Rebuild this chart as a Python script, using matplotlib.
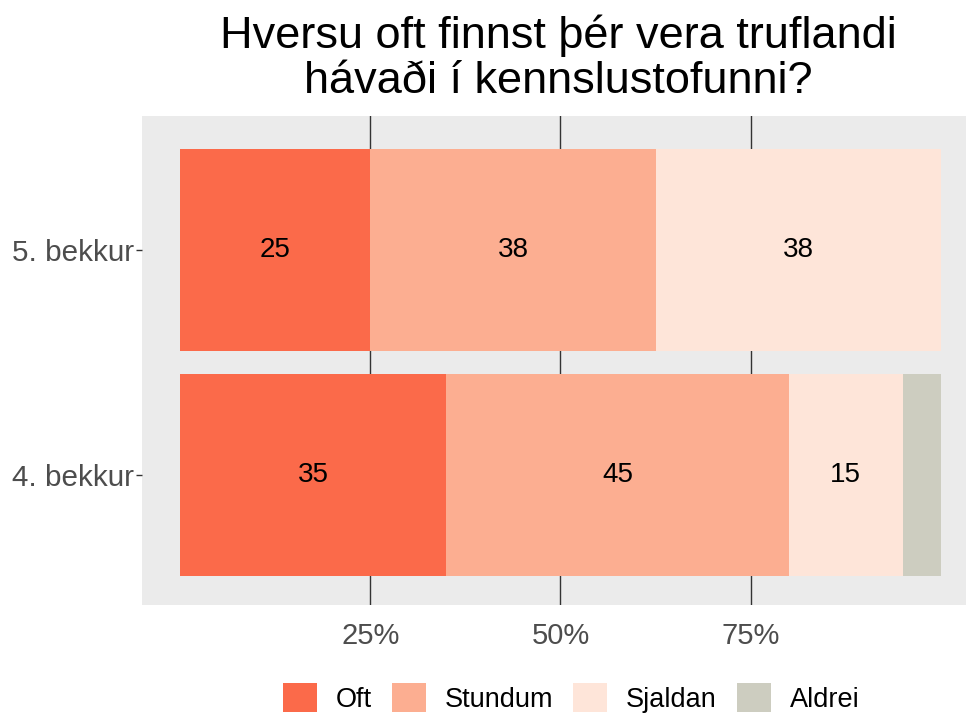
import numpy as np
import matplotlib
matplotlib.use('Agg')
import matplotlib.pyplot as plt
from matplotlib.patches import Patch

plt.rcParams['font.family'] = ['Liberation Sans', 'DejaVu Sans']

# gogn
bekkir = ['4. bekkur', '5. bekkur']
svor = ['Oft', 'Stundum', 'Sjaldan', 'Aldrei']
oft = [35, 25]
stundum = [45, 37.5]
sjaldan = [15, 37.5]
aldrei = [5, 0]
litir = ['#FB6A4A', '#FCAE91', '#FEE5D9', '#CDCDC0']

fig = plt.figure(figsize=(9.66, 7.13), dpi=100)
ax = fig.add_axes([142/966, (713-605)/713, 1 - 142/966, (605-116)/713])
ax.set_facecolor('#EBEBEB')
for s in ax.spines.values():
    s.set_visible(False)

for g in [25, 50, 75]:
    ax.axvline(g, color='#333333', lw=1.0, zorder=1)

y = np.arange(len(bekkir))
left = np.zeros(len(bekkir))
for nafn, gildi, lit in zip(svor, [oft, stundum, sjaldan, aldrei], litir):
    gildi = np.array(gildi, dtype=float)
    ax.barh(y, gildi, left=left, height=0.9, color=lit, zorder=2)
    for yi, l, v in zip(y, left, gildi):
        if v >= 10:
            ax.text(l + v / 2, yi, str(int(np.floor(v + 0.5))),
                    ha='center', va='center', fontsize=20, color='black', zorder=3)
    left += gildi

ax.set_xlim(-5, 103.3)
ax.set_ylim(-0.578, 1.596)
ax.set_xticks([25, 50, 75])
ax.set_xticklabels(['25%', '50%', '75%'])
ax.set_yticks(y)
ax.set_yticklabels(bekkir)
ax.tick_params(axis='x', length=0, labelsize=21, labelcolor='#4D4D4D', pad=12)
ax.tick_params(axis='y', length=4, width=1, color='#333333', labelsize=21.3,
               labelcolor='#4D4D4D', pad=2)

fig.suptitle('Hversu oft finnst þér vera truflandi\nhávaði í kennslustofunni?',
             fontsize=32.5, x=558/966, y=0.98, va='top', linespacing=1.12)

handles = [Patch(facecolor=c, edgecolor='none') for c in litir]
fig.legend(handles, svor, loc='center', bbox_to_anchor=(571/966, 15/713), ncol=4,
           frameon=False, fontsize=19.5, handlelength=1.25, handleheight=1.25,
           handletextpad=0.7, columnspacing=0.74)

fig.savefig('out.png', dpi=100)
